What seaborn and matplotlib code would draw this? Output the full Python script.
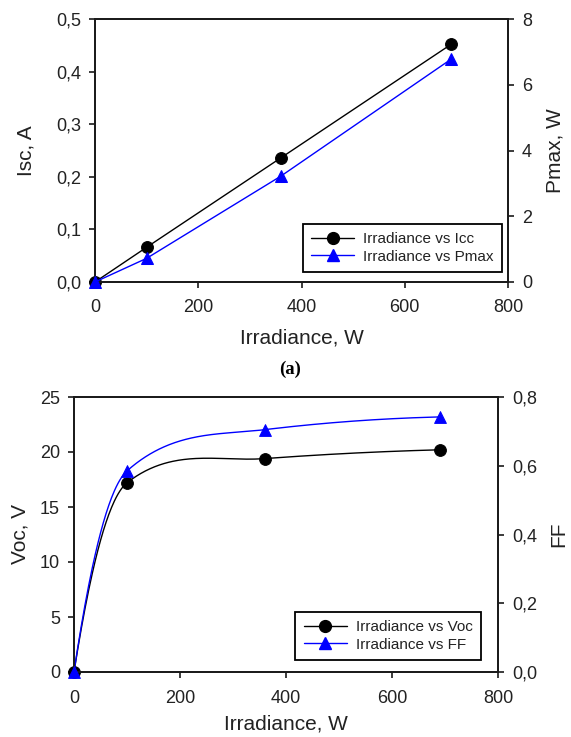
import numpy as np
import matplotlib
matplotlib.use("Agg")
import matplotlib.pyplot as plt
import seaborn as sns
from matplotlib.lines import Line2D
from matplotlib.ticker import FuncFormatter

# ---------------- data ----------------
irradiance = [0, 100, 360, 690]
isc = [0.0, 0.066, 0.236, 0.452]          # A
pmax = [0.0, 0.72, 3.22, 6.78]            # W
voc = [0.0, 17.2, 19.4, 20.2]             # V
ff = [0.0, 0.585, 0.705, 0.742]

x_ticks = [0, 200, 400, 600, 800]
isc_ticks = [0.0, 0.1, 0.2, 0.3, 0.4, 0.5]
pmax_ticks = [0, 2, 4, 6, 8]
voc_ticks = [0, 5, 10, 15, 20, 25]
ff_ticks = [0.0, 0.2, 0.4, 0.6, 0.8]

legend_top = ["Irradiance vs Icc", "Irradiance vs Pmax"]
legend_bottom = ["Irradiance vs Voc", "Irradiance vs FF"]

# ---------------- style ----------------
sns.set_style("ticks")
plt.rcParams['font.family'] = ['Liberation Sans', 'DejaVu Sans']
TXT = '#222222'
BLUE = '#0000ff'


def smooth_curve(x, y, n=400, tension=0.3):
    """Cardinal (Hermite) spline through the data points, for drawing only."""
    x = np.asarray(x, float)
    y = np.asarray(y, float)
    d = np.diff(y) / np.diff(x)
    m = np.zeros_like(y)
    m[1:-1] = (1 - tension) * (y[2:] - y[:-2]) / (x[2:] - x[:-2])
    m[0] = 2 * d[0] - m[1]
    m[-1] = 2 * d[-1] - m[-2]
    xs = np.linspace(x[0], x[-1], n)
    i = np.clip(np.searchsorted(x, xs, side='right') - 1, 0, len(x) - 2)
    h = x[i + 1] - x[i]
    t = (xs - x[i]) / h
    h00 = 2 * t**3 - 3 * t**2 + 1
    h10 = t**3 - 2 * t**2 + t
    h01 = -2 * t**3 + 3 * t**2
    h11 = t**3 - t**2
    ys = h00 * y[i] + h10 * h * m[i] + h01 * y[i + 1] + h11 * h * m[i + 1]
    return xs, ys


def comma(fmt):
    return FuncFormatter(lambda v, p: (fmt % v).replace('.', ','))


W, H = 571, 737
fig = plt.figure(figsize=(W / 100, H / 100), dpi=100)
ax1 = fig.add_axes([95 / W, 1 - 282 / H, 413 / W, 263 / H])
ax2 = ax1.twinx()
ax3 = fig.add_axes([74 / W, 1 - 672 / H, 424 / W, 275 / H])
ax4 = ax3.twinx()

MS = 8.5
LW = 1.0

# ---------------- top chart ----------------
sns.lineplot(x=irradiance, y=isc, ax=ax1, color='black', lw=LW, marker='o',
             markersize=MS, markeredgecolor='black', clip_on=False, zorder=3)
sns.lineplot(x=irradiance, y=pmax, ax=ax2, color=BLUE, lw=LW, marker='^',
             markersize=MS, markeredgecolor=BLUE, clip_on=False, zorder=3)

# ---------------- bottom chart ----------------
xs, ys = smooth_curve(irradiance, voc)
sns.lineplot(x=xs, y=ys, ax=ax3, color='black', lw=LW, estimator=None, sort=False)
sns.scatterplot(x=irradiance, y=voc, ax=ax3, color='black', marker='o', s=MS**2,
                edgecolor='black', clip_on=False, zorder=3)
xs, ys = smooth_curve(irradiance, ff)
sns.lineplot(x=xs, y=ys, ax=ax4, color=BLUE, lw=LW, estimator=None, sort=False)
sns.scatterplot(x=irradiance, y=ff, ax=ax4, color=BLUE, marker='^', s=MS**2,
                edgecolor=BLUE, clip_on=False, zorder=3)

# ---------------- axes formatting ----------------
for a, b, lt, rt, lf, rf in [(ax1, ax2, isc_ticks, pmax_ticks, '%.1f', '%d'),
                             (ax3, ax4, voc_ticks, ff_ticks, '%d', '%.1f')]:
    a.set_xlim(x_ticks[0], x_ticks[-1])
    a.set_xticks(x_ticks)
    a.set_ylim(lt[0], lt[-1])
    a.set_yticks(lt)
    a.yaxis.set_major_formatter(comma(lf))
    b.set_ylim(rt[0], rt[-1])
    b.set_yticks(rt)
    b.yaxis.set_major_formatter(comma(rf))
    for ax in (a, b):
        for s in ax.spines.values():
            s.set_visible(True)
            s.set_linewidth(1.3)
            s.set_color('#1a1a1a')
        ax.tick_params(axis='y', direction='out', length=4, width=1.2,
                       labelsize=13, pad=6, colors='#1a1a1a', labelcolor=TXT)
    a.tick_params(axis='x', direction='out', length=4, width=1.2,
                  labelsize=13, colors='#1a1a1a', labelcolor=TXT)

ax1.tick_params(axis='x', pad=8)
ax3.tick_params(axis='x', pad=9)

ax1.set_xlabel('Irradiance, W', fontsize=15, color=TXT)
ax1.set_ylabel('Isc, A', fontsize=15, color=TXT)
ax2.set_ylabel('Pmax, W', fontsize=15, color=TXT)
ax1.xaxis.set_label_coords(0.5, -0.175)
ax1.yaxis.set_label_coords(-0.145, 0.5)
ax2.yaxis.set_label_coords(1.092, 0.5)

ax3.set_xlabel('Irradiance, W', fontsize=15, color=TXT)
ax3.set_ylabel('Voc, V', fontsize=15, color=TXT)
ax4.set_ylabel('FF', fontsize=15, color=TXT)
ax3.xaxis.set_label_coords(0.5, -0.155)
ax3.yaxis.set_label_coords(-0.104, 0.5)
ax4.yaxis.set_label_coords(1.122, 0.5)

fig.text(290 / W, 1 - 369 / H, '(a)', ha='center', va='center',
         fontsize=13.5, fontweight='bold', family='Liberation Serif', color='black')

# ---------------- legends ----------------
h_black = Line2D([], [], color='black', lw=LW, marker='o', markersize=MS)
h_blue = Line2D([], [], color=BLUE, lw=LW, marker='^', markersize=MS)
leg_kw = dict(loc='lower right', frameon=True, fancybox=False, edgecolor='black',
              fontsize=11, handlelength=2.8, handletextpad=0.6, labelspacing=0.22,
              borderpad=0.55, borderaxespad=0, numpoints=1)
leg1 = ax2.legend([h_black, h_blue], legend_top, bbox_to_anchor=(0.9855, 0.038), **leg_kw)
leg2 = ax4.legend([h_black, h_blue], legend_bottom, bbox_to_anchor=(0.96, 0.0436), **leg_kw)
for lg in (leg1, leg2):
    lg.get_frame().set_linewidth(1.3)
    lg.get_frame().set_alpha(1)
    for t in lg.get_texts():
        t.set_color(TXT)

fig.savefig('out.png', dpi=100)
